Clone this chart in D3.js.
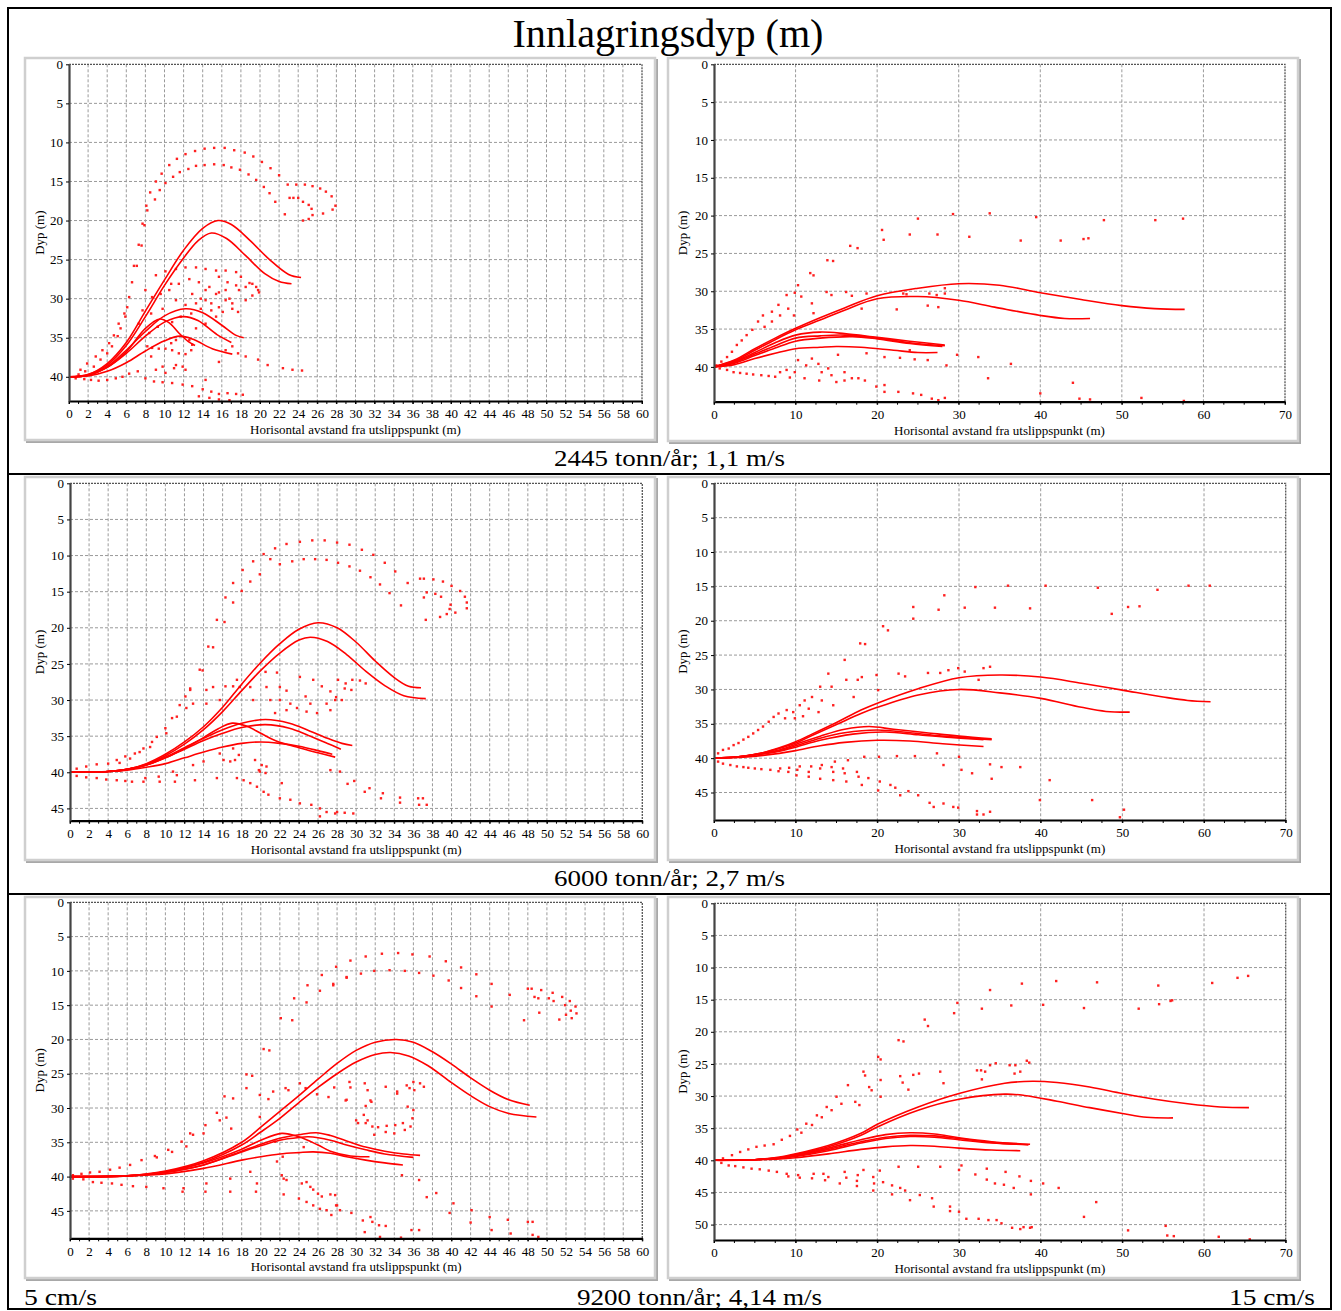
<!DOCTYPE html>
<html><head><meta charset="utf-8">
<script src="https://cdn.jsdelivr.net/npm/d3@7"></script>
<style>body{margin:0;background:#fff}svg text{font-family:"Liberation Serif","Times New Roman",serif}</style>
</head><body>
<svg id="c" width="1341" height="1311"></svg>
<script>
// ---------- texts ----------
const mainTitle = "Innlagringsdyp (m)";
const rowLabels = ["2445 tonn/år; 1,1 m/s", "6000 tonn/år; 2,7 m/s", "9200 tonn/år; 4,14 m/s"];
const colLabels = ["5 cm/s", "15 cm/s"];
const yLabel = "Dyp (m)";
const xLabel = "Horisontal avstand fra utslippspunkt (m)";

// ---------- ticks ----------
const xTicksLeft = [0,2,4,6,8,10,12,14,16,18,20,22,24,26,28,30,32,34,36,38,40,42,44,46,48,50,52,54,56,58,60];
const xTicksRight = [0,10,20,30,40,50,60,70];
const yTicks40 = [0,5,10,15,20,25,30,35,40];
const yTicks45 = [0,5,10,15,20,25,30,35,40,45];
const yTicks50 = [0,5,10,15,20,25,30,35,40,45,50];

// ---------- panel A: 2445 t/år, 5 cm/s ----------
const linesA = [
 [[0,40],[2,39.7],[4,38.3],[6,35.6],[8,31.6],[10,27.6],[12,23.8],[14,21],[15.6,20],[17,20.5],[19,22.6],[21,25],[23,26.9],[24.3,27.3]],
 [[0,40],[2,39.7],[4,38.5],[6,36],[8,32.3],[10,28.3],[12,24.8],[13.5,22.6],[14.9,21.6],[16.5,22.3],[18.5,24.5],[20.5,26.8],[22,27.8],[23.3,28.1]],
 [[0,40],[2,39.8],[4,38.7],[6,36.6],[8,34.2],[10,32.2],[12.2,31.3],[14,31.8],[16,33.4],[17.5,34.7],[18.3,35]],
 [[0,40],[2,39.8],[4,38.8],[6,37],[8,34.8],[10,33],[12,32.3],[13.5,32.8],[15.5,34.6],[17,35.6]],
 [[0,40],[2,39.8],[4,38.8],[6,36.8],[8,33.8],[9.5,32.6],[10.5,33.1],[11.5,34.4],[12.5,35.5],[13.2,36]],
 [[0,40],[2,39.9],[4,39.3],[6,38.2],[8,36.7],[10,35.4],[11.6,34.8],[13,35.2],[15,36.4],[17.1,37.1]]
];
const dotsA = [
 [7.3,23.1],[7.7,20.4],[8.1,18.1],[8.5,16.4],[9.1,15.0],[9.7,14.0],[10.5,12.9],[11.3,12.1],[12.2,11.5],[13.2,11.1],[14.2,10.8],[15.2,10.7],[16.3,10.7],[17.3,11.0],[18.4,11.3],[19.3,11.8],[20.2,12.5],[21.1,13.3],[22.0,14.2],[22.9,15.4],
 [7.6,23.2],[7.9,20.6],[8.2,18.7],[9.0,17.3],[9.5,16.1],[10.1,15.2],[10.9,14.4],[11.6,13.8],[12.5,13.4],[13.3,13.0],[14.2,12.9],[15.2,12.8],[16.2,12.9],[17.0,13.2],[17.9,13.5],[18.8,14.1],[19.6,14.8],[20.4,15.7],[21.0,16.5],[21.6,17.6],[22.6,19.2],
 [23.1,17.1],[23.5,17.1],[24.0,17.1],[24.5,17.6],[25.1,18.0],[25.4,18.5],[25.5,19.3],[25.1,19.8],[24.5,20.0],[26.6,19.1],[27.6,18.6],[27.9,18.1],[27.5,16.9],[26.9,16.3],[26.3,15.9],[25.5,15.6],[24.7,15.4],[23.8,15.4],
 [6.8,25.8],[7.1,25.8],[6.6,27.9],[6.1,31.1],[5.9,32.3],[5.4,33.8],[5.1,34.8],[4.5,36.1],[4.0,37.0],[3.3,37.8],[2.6,38.7],[1.7,39.3],[1.0,39.7],
 [6.3,29.8],[5.8,31.9],[5.2,33.2],[4.7,34.7],[4.2,35.7],[3.5,36.6],[2.8,37.4],[1.9,38.3],[1.2,39.1],
 [0.7,40.2],[1.6,40.3],[2.3,40.4],[3.1,40.5],[4.0,40.4],[4.9,40.2],[5.6,40.0],[6.3,39.6],[7.2,39.3],[8.0,40.2],[8.9,40.6],[9.8,40.7],[10.8,40.8],[11.9,41.0],[12.9,41.2],[14.0,41.6],[14.9,41.9],[15.7,42.2],[16.6,42.1],[17.5,42.2],[18.2,42.3],[13.6,42.5],[14.7,42.7],[15.7,42.9],[16.8,43.0],
 [8.0,28.9],[9.1,27.0],[10.1,26.5],[11.2,26.2],[12.2,26.0],[13.3,26.0],[14.3,26.2],[15.4,26.4],[16.4,26.4],[17.5,26.6],[18.0,27.2],[18.9,28.0],[19.6,28.5],[19.9,29.2],[19.2,29.6],[18.5,30.2],[17.5,28.3],[16.4,28.9],[15.4,29.4],[14.3,30.2],[13.3,30.6],[12.2,30.8],[11.2,30.2],[10.5,28.9],[11.5,28.1],[12.6,27.5],[13.6,27.9],[14.7,28.5],[15.7,29.2],[16.8,30.0],[17.1,31.3],[17.7,31.7],[14.9,31.5],[13.8,31.3],[12.8,31.9],[11.7,32.3],[9.8,31.3],[8.7,29.8],[7.7,31.5],[7.3,33.2],[8.4,34.4],
 [15.7,27.2],[16.6,27.9],[14.3,28.9],[12.9,29.4],[13.8,30.0],[14.9,30.6],[15.7,31.1],[16.4,30.2],[17.8,28.9],[18.5,28.5],[19.2,28.1],[19.8,28.9],[17.1,30.6],[10.7,28.1],[9.6,29.4],[8.6,31.9],[9.3,33.6],[13.3,33.8],[14.3,33.2],[15.4,32.3],[16.1,31.7],[10.8,33.0],[16.4,36.6],[17.1,36.1],[15.7,38.1],[14.3,40.4],
 [17.7,37.0],[18.5,37.4],[19.8,37.8],[20.8,38.5],[22.4,38.9],[23.4,39.1],[24.4,39.2],
 [10.8,36.6],[11.5,37.0],[12.2,37.1],[12.8,36.6],[12.9,35.9],[12.6,35.3],[11.2,35.3],[10.7,35.7],[10.1,36.4],[9.4,36.4],[8.7,36.3],[8.2,36.1],[11.0,38.9],[11.9,38.7],[11.2,38.5],[12.2,39.1],[9.8,38.7],[9.1,39.1],[10.1,39.5],[8.6,37.4]
];

// ---------- panel B: 2445 t/år, 15 cm/s ----------
const linesB = [
 [[0,40],[2.5,39.1],[5,37.6],[7.5,36.2],[10,34.9],[13,33.5],[16,32.2],[20,30.6],[25,29.6],[30,29.0],[35,29.2],[40,30.2],[45,31.1],[50,31.9],[54,32.3],[57.7,32.4]],
 [[0,40],[2.5,39.2],[5,37.8],[7.5,36.4],[10,35.1],[13,33.8],[16,32.5],[20,31.0],[25,30.7],[30,31.2],[34.4,32.1],[40,33.2],[43,33.6],[46.1,33.6]],
 [[0,40],[2.5,39.3],[5,38.1],[7.5,36.8],[10,35.8],[13,35.4],[16,35.6],[20,36.1],[24,36.6],[28.3,37.1]],
 [[0,40],[2.5,39.4],[5,38.3],[7.5,37.2],[10,36.2],[13,35.9],[16,35.8],[20,36.2],[24,36.8],[28.3,37.2]],
 [[0,40],[2.5,39.5],[5,38.5],[7.5,37.5],[10,36.6],[13,36.2],[17,36.0],[20,36.3],[24,36.9],[28,37.3]],
 [[0,40],[2.5,39.7],[5,38.9],[7.5,38.2],[10,37.6],[13,37.4],[15,37.3],[18,37.4],[22,37.8],[25,38.1],[27.4,38.1]]
];
const dotsB = [
 [0.3,39.8],[0.9,39.3],[1.6,38.7],[2.2,38.0],[2.8,37.1],[3.4,36.5],[4.0,35.8],[4.7,35.1],[5.4,34.0],[6.0,33.2],[7.1,32.7],[7.9,31.8],[8.9,30.5],[9.9,30.2],[10.3,29.2],[11.8,27.6],[12.2,27.9],[13.9,25.9],[14.6,26.0],[16.7,24.0],[17.6,24.3],[20.6,21.9],[20.8,23.2],[24.0,22.5],[25.0,20.4],[27.4,22.5],[29.3,19.8],[31.3,22.8],
 [6.2,34.7],[7.1,34.0],[8.1,33.2],[9.1,32.3],[9.8,33.2],[10.7,30.7],[12.0,31.6],[12.2,32.9],[13.8,30.1],[14.4,30.5],[16.2,30.1],[16.9,30.6],[18.7,30.3],[18.1,32.3],[22.4,32.4],[23.2,30.3],[26.4,30.3],[27.3,30.5],[28.3,30.3],[27.5,32.1],[26.2,31.9],[28.3,29.6],[23.6,30.4],
 [0.7,40.2],[1.6,40.4],[2.4,40.7],[3.2,40.8],[4.0,40.9],[4.8,41.0],[5.8,41.1],[6.7,41.2],[8.1,40.7],[8.9,40.4],[9.9,40.7],[10.3,39.1],[11.3,39.8],[12.0,38.9],[12.8,39.6],[13.2,40.7],[14.0,40.2],[14.4,41.1],[15.2,38.4],[16.0,40.7],[16.9,41.5],[17.7,41.5],[18.7,38.2],[16.0,41.8],[15.0,42.0],[12.9,41.8],[11.1,41.5],[7.5,41.3],[9.3,41.4],[18.5,41.8],[19.9,42.6],[20.9,42.4],[20.9,43.3],[22.6,43.3],[24.4,43.5],[25.4,43.7],[26.7,44.2],[27.5,44.4],[28.3,44.1],
 [20.9,38.7],[22.8,38.8],[24.0,37.8],[24.6,39.0],[26.2,39.1],[29.8,38.4],[28.5,39.8],[32.4,38.7],[33.6,41.5],
 [33.8,19.7],[39.5,20.2],[37.6,23.3],[42.5,23.3],[45.3,23.1],[45.9,23.0],[47.8,20.6],[54.1,20.6],[57.5,20.4],
 [36.4,39.6],[44.0,42.1],[40.0,43.5],[44.8,44.2],[46.1,44.3],[52.4,44.1],[57.6,44.5]
];

// ---------- panel C: 6000 t/år, 5 cm/s ----------
const linesC = [
 [[0,40],[4,39.9],[6,39.6],[8,38.8],[10,37.5],[12,35.8],[14,33.7],[16,31],[18,27.8],[20,24.8],[22,22.2],[24,20.2],[26,19.3],[28,20],[30,22],[32,24.6],[34,26.9],[35.5,28.1],[36.8,28.3]],
 [[0,40],[4,39.9],[6,39.6],[8,38.9],[10,37.7],[12,36.1],[14,34.1],[16,31.6],[18,28.7],[20,25.9],[22,23.5],[24,21.7],[25.2,21.3],[27,21.9],[29,23.7],[31,26],[33,28],[35,29.4],[37.3,29.8]],
 [[0,40],[4,39.9],[6,39.6],[8,39],[10,37.9],[12,36.6],[14,35.3],[16,34.1],[18,33.2],[20.5,32.7],[23,33.2],[25,34.2],[27,35.3],[28.5,36],[29.6,36.3]],
 [[0,40],[4,39.9],[6,39.6],[8,39],[10,38],[12,36.8],[14,35.6],[16,34.6],[18,33.8],[20.5,33.4],[23,33.9],[25,34.9],[27,36],[28.4,36.8]],
 [[0,40],[4,39.9],[6,39.6],[8,39],[10,38],[12,36.7],[14,35.2],[15.5,34],[17,33.2],[18.5,33.6],[20,34.6],[21.5,35.6],[24,36.6],[26,37.3],[27.8,37.9]],
 [[0,40],[4,39.9],[6,39.7],[8,39.3],[10,38.8],[12,38],[14,37.2],[16,36.5],[18,36],[20,35.8],[22,36],[24,36.4],[26,37],[27.5,37.5]]
];
const dotsC = [
 [15.4,18.9],[16.2,19.2],[14.5,22.6],[15.0,22.7],[13.6,25.8],[13.9,25.9],[16.3,15.8],[17.1,16.5],[17.1,13.8],[18.0,14.9],[18.1,12.0],[18.9,13.6],[19.2,10.8],[19.9,12.6],[20.3,9.8],[21.0,10.5],[21.5,9.0],[22.0,11.2],[22.7,8.4],[23.3,10.8],[24.1,8.1],[24.5,10.5],[25.4,7.9],[25.7,10.5],[26.7,7.9],[26.9,10.6],[28.0,8.2],
 [29.3,8.5],[28.1,11.0],[29.3,11.5],[30.6,9.2],[30.4,12.1],[31.8,9.9],[31.5,13.0],[33.0,11.0],[32.5,14.0],[34.1,12.2],[33.5,15.2],[35.4,13.8],[34.7,16.9],[36.7,13.2],[37.1,13.2],[38.1,13.3],[39.1,13.6],[40.0,14.2],[40.9,14.9],[41.4,15.7],[41.6,16.5],[41.6,17.3],[40.4,17.9],[39.5,18.1],[38.8,18.5],[37.4,15.1],[37.1,15.8],[37.3,18.9],[38.3,15.3],[38.9,15.7],[39.9,16.8],[39.8,17.4],
 [15.0,28.2],[16.3,28.1],[17.1,28.1],[17.8,28.2],[18.9,28.2],[19.2,30.0],[20.5,26.1],[21.7,26.2],[22.0,28.2],[22.0,30.0],[22.7,28.7],[23.1,30.5],[24.1,26.8],[24.7,29.5],[25.2,30.5],[25.5,27.2],[26.4,28.1],[27.3,28.8],[27.8,30.0],[26.9,30.5],[25.9,31.8],[24.8,31.6],[23.8,31.1],[22.7,31.4],[21.5,31.8],[21.0,30.0],[20.6,28.2],[17.5,27.2],[14.3,28.6],[15.7,30.0],[14.3,30.5],[12.9,30.5],[12.2,31.1],[12.1,29.5],[12.6,28.4],
 [28.1,27.2],[28.9,27.7],[29.6,27.2],[30.4,27.3],[31.0,27.7],[28.8,28.4],[29.5,28.6],[27.9,29.6],[28.5,30.0],[27.3,31.4],
 [0.7,40.5],[1.7,40.7],[2.8,40.8],[3.8,41.0],[4.9,41.1],[5.8,41.2],[6.5,41.3],[7.7,41.3],[7.9,40.8],[9.3,40.6],[9.4,41.3],[10.8,39.9],[11.0,41.3],[11.2,40.4],[12.9,39.0],[13.1,41.1],[14.0,38.5],[15.4,40.8],[15.7,37.4],[16.1,38.3],[16.8,38.5],[17.3,38.3],[17.7,37.6],[17.5,40.8],[18.2,41.1],[18.9,41.5],[19.6,42.0],[20.3,42.7],[20.8,43.1],[19.4,38.3],[19.8,39.7],[20.1,39.0],[20.6,39.2],[19.9,39.9],[20.5,40.1],[22.2,41.5],[22.0,43.6],[23.1,43.8],[24.1,44.3],[25.3,44.5],[26.2,45.0],[26.9,45.5],[27.8,45.7],[26.2,46.1],[17.1,36.7],
 [0.7,39.5],[1.7,39.2],[2.8,38.9],[4.0,38.8],[4.9,38.3],[5.8,37.8],[6.8,37.4],[7.7,36.7],[8.6,35.8],[9.1,35.1],[10.0,33.9],[10.7,32.5],[11.5,30.7],[12.6,28.6],
 [5.2,38.7],[6.3,38.1],[7.3,37.2],[8.4,36.5],[10.1,34.6],[11.2,32.3],
 [28.3,39.9],[29.1,41.6],[29.8,41.2],[30.9,42.7],[31.4,42.2],[32.8,42.9],[32.6,43.6],[34.6,43.5],[34.6,44.2],[36.5,43.6],[37.0,43.6],[37.4,44.5],[36.6,44.5],[28.0,45.5],[28.8,45.6],[29.7,45.7],[27.3,39.7]
];

// ---------- panel D: 6000 t/år, 15 cm/s ----------
const linesD = [
 [[0,40],[3,39.8],[6,39.2],[8,38.5],[10,37.6],[12,36.5],[15,34.8],[18,33],[20,32],[25,29.9],[30,28.3],[35,27.9],[40,28.2],[45,29.1],[50,30.1],[55,31.1],[58,31.6],[60.8,31.8]],
 [[0,40],[3,39.8],[6,39.2],[8,38.6],[10,37.8],[12,36.7],[15,35.1],[18,33.5],[20,32.6],[25,30.8],[30,30.0],[35,30.5],[40,31.3],[45,32.6],[48,33.2],[50.9,33.3]],
 [[0,40],[3,39.8],[6,39.3],[8,38.8],[10,38],[13,36.8],[16,35.8],[19,35.4],[22,35.8],[26,36.3],[30,36.8],[34,37.2]],
 [[0,40],[3,39.8],[6,39.3],[8,38.9],[10,38.2],[13,37.1],[16,36.3],[20,35.9],[24,36.3],[28,36.8],[34,37.3]],
 [[0,40],[3,39.8],[6,39.4],[8,39],[10,38.4],[13,37.4],[17,36.5],[21,36.2],[25,36.6],[29,37.0],[33,37.3]],
 [[0,40],[3,39.9],[6,39.6],[8,39.3],[10,38.9],[13,38.2],[16,37.7],[20,37.4],[24,37.5],[28,37.9],[33,38.3]]
];
const dotsD = [
 [0.5,39.3],[1.1,38.8],[1.8,38.6],[2.4,38.1],[3.0,37.8],[3.6,37.3],[4.2,36.9],[4.8,36.4],[5.4,35.9],[6.0,35.4],[6.7,34.7],[7.3,34.0],[7.9,33.5],[8.7,34.2],[8.9,33.0],[9.7,33.3],[9.9,34.2],[10.5,32.3],[10.9,33.9],[11.1,31.6],[11.6,32.8],[12.0,31.1],[12.8,33.3],[13.0,29.6],[13.2,31.6],[14.0,27.7],[14.4,29.6],[14.6,32.3],[16.0,25.7],[16.2,28.6],[17.1,31.1],[17.9,23.3],[18.5,23.4],[18.1,28.2],[17.6,28.6],[19.9,27.9],[20.1,30.1],[20.7,20.8],[21.3,21.4],[22.6,27.7],[23.4,28.1],[24.4,18.0],[24.4,19.7],[26.2,27.6],[27.5,18.4],[27.7,27.6],[28.2,16.3],[28.7,27.2],[29.9,26.9],[30.7,18.1],[30.7,27.4],[32.0,15.1],[32.4,28.6],[33.0,26.9],[33.8,26.7],[34.4,18.1],
 [36.0,14.9],[40.6,14.9],[47.0,15.2],[54.3,15.5],[58.1,14.9],[60.7,14.9],[38.7,18.2],[48.7,19.0],[50.7,18.0],[52.1,17.9],
 [37.5,41.3],[41.1,43.2],[39.9,46.1],[46.3,46.1],[49.7,48.6],[50.2,47.5],
 [0.5,40.5],[1.1,40.8],[2.0,41.0],[2.8,41.2],[3.6,41.3],[4.2,41.4],[5.0,41.5],[5.8,41.6],[6.9,41.7],[7.9,41.9],[8.1,41.5],[9.1,42.0],[9.2,41.4],[10.2,41.7],[10.5,41.2],[10.1,42.5],[11.6,42.0],[11.9,41.2],[11.6,42.7],[13.0,41.5],[13.2,41.0],[13.0,43.0],[14.4,41.3],[14.6,42.0],[14.8,40.5],[14.6,43.2],[15.8,41.5],[16.0,42.2],[16.2,43.4],[16.4,40.3],[17.5,42.0],[17.7,42.7],[18.1,43.9],[18.4,39.8],[18.9,42.9],[20.3,43.4],[20.1,44.7],[20.2,39.8],[21.6,43.9],[22.2,44.3],[22.4,39.7],[22.8,45.4],[23.8,44.8],[24.6,39.7],[25.0,45.4],[26.4,46.5],[26.9,47.1],[27.3,39.3],[28.1,41.0],[28.1,46.6],[29.3,47.1],[29.9,47.2],[30.0,39.8],[30.3,41.7],[31.6,42.2],[32.2,47.7],[32.2,48.2],[33.0,48.2],[33.8,47.8],[33.8,40.9],[34.0,43.0],[35.2,41.3]
];

// ---------- panel E: 9200 t/år, 5 cm/s ----------
const linesE = [
 [[0,40],[6,39.9],[10,39.2],[14,37.7],[18,35],[20,32.8],[22,30.5],[24,28.2],[26,25.8],[28,23.5],[30,21.6],[32,20.4],[34.2,20],[36,20.4],[38,21.8],[40,23.6],[42,25.6],[44,27.4],[46,28.8],[48.2,29.6]],
 [[0,40],[6,39.9],[10,39.3],[14,37.9],[18,35.4],[20,33.5],[22,31.5],[24,29.2],[26,27],[28,25],[30,23.3],[32,22.2],[33.6,21.9],[35.5,22.4],[37.5,23.8],[40,26.3],[42,28.2],[44,29.8],[46,30.8],[48.9,31.3]],
 [[0,40],[6,39.9],[10,39.4],[14,38.3],[18,36.3],[20,35.3],[22,34.4],[24,33.9],[25.8,33.6],[27.3,34.0],[29,34.8],[31,35.7],[33,36.3],[35,36.7],[36.7,36.9]],
 [[0,40],[6,39.9],[10,39.4],[14,38.3],[18,36.4],[20,35.5],[22,34.7],[24,34.3],[25,34.2],[27.3,34.7],[29,35.4],[31,36.1],[33,36.7],[36,37.2]],
 [[0,40],[6,39.9],[10,39.3],[14,38],[18,36],[20,34.7],[22.2,33.7],[24,34.2],[26,35.4],[27.3,36.3],[29.4,37],[31.4,37.1]],
 [[0,40],[6,39.9],[10,39.6],[14,38.8],[18,37.6],[20,37.1],[22,36.7],[24,36.5],[25.5,36.4],[27.3,36.6],[29,37.1],[31,37.6],[33,38.0],[34.9,38.3]]
];
const dotsE = [
 [27.9,9.4],[29.0,10.9],[26.4,10.6],[27.6,11.9],[26.2,12.9],[24.9,12.1],[23.5,14.0],[24.8,14.6],[23.3,17.2],[22.1,16.9],[20.3,21.4],[20.9,21.6],[18.5,25.1],[19.1,25.3],[16.2,28.3],[17.1,28.6],[15.4,30.7],[15.7,31.8],[14.2,32.5],[14.0,33.7],[12.6,33.7],[12.9,33.9],[11.7,34.9],[12.2,35.6],[10.3,36.1],[10.7,36.4],[8.9,37.0],[9.1,37.2],[7.5,37.6],[6.3,38.3],[5.2,38.7],[4.2,39.0],[3.1,39.3],[2.1,39.4],[1.2,39.6],[0.3,39.8],
 [16.4,31.4],[16.9,33.0],[18.5,27.1],[19.9,28.1],[20.8,28.7],[21.3,27.6],[22.6,27.1],[22.9,27.4],[24.1,26.4],[24.7,27.1],[25.9,28.0],[27.1,28.4],[29.0,28.8],[19.9,31.3],[21.5,34.9],[22.3,37.1],[24.5,35.7],
 [0.3,40.3],[1.4,40.4],[2.4,40.8],[3.3,40.9],[4.4,41.0],[5.4,41.2],[6.6,41.4],[8.0,41.5],[9.8,41.7],[11.9,41.7],[11.8,42.2],[14.3,41.0],[14.2,42.2],[16.8,40.3],[16.8,42.2],[18.9,39.3],[19.6,41.0],[19.5,42.2],[21.7,37.8],[22.2,39.8],[22.4,40.3],[22.7,40.5],[22.4,42.6],[24.0,43.2],[24.3,41.0],[24.8,40.8],[25.2,41.5],[25.5,41.9],[26.0,42.5],[26.4,42.9],[24.8,43.7],[25.5,44.2],[26.2,44.7],[26.9,44.9],[27.4,45.6],[28.3,44.9],[28.0,44.2],[27.3,42.6],
 [29.4,8.5],[31.0,7.9],[32.7,7.5],[34.4,7.4],[35.9,7.6],[37.7,7.9],[39.4,8.6],[41.0,9.5],[42.6,10.5],[44.2,11.9],[46.1,13.5],[48.0,12.6],[48.4,12.6],[49.4,12.8],[50.6,13.2],[51.6,13.8],[52.4,14.4],[53.0,15.2],[53.1,16.2],[52.6,16.9],[52.0,16.4],[51.3,17.1],[50.7,14.4],[50.2,14.0],[49.1,14.0],[48.7,13.8],[51.9,15.0],[52.5,15.8],[49.2,16.1],[47.6,17.2],[44.2,15.2],[42.6,13.7],[41.0,12.5],[39.7,11.4],[38.1,10.7],[36.6,10.3],[35.1,10.0],[33.5,9.9],[31.9,10.0],[30.5,10.4],[29.0,11.0],[27.6,12.1],
 [29.3,26.2],[29.4,27.0],[27.7,27.0],[28.9,28.9],[30.9,26.4],[31.2,27.4],[31.5,28.9],[31.6,29.1],[33.1,26.9],[34.3,27.9],[34.3,27.6],[35.3,26.7],[36.0,26.2],[36.7,26.4],[37.1,26.9],[35.6,27.1],[36.1,27.4],[35.4,29.8],[36.0,30.3],[35.9,31.5],[35.7,32.7],[35.1,33.2],[34.1,32.5],[33.2,32.6],[32.3,32.8],[31.7,32.7],[31.0,32.2],[30.2,32.2],[30.0,31.8],[30.8,31.0],[31.2,31.8],[31.9,33.9],[33.1,33.5],[34.0,33.7],[34.9,32.2],[31.0,29.7],
 [27.8,42.7],[27.9,44.2],[29.5,45.3],[30.7,46.4],[31.5,45.9],[31.7,46.6],[32.4,47.1],[30.9,48.1],[32.5,48.8],[33.1,47.2],[34.8,39.8],[34.7,48.9],[35.8,47.8],[36.6,47.8],[36.6,40.5],[37.4,43.0],[38.4,42.4],[40.2,43.9],[39.8,45.3],[42.1,44.9],[42.0,46.7],[44.0,45.9],[44.2,47.8],[45.9,46.3],[46.2,48.3],[48.0,46.6],[48.5,46.6],[48.5,48.5],[49.1,48.8]
];

// ---------- panel F: 9200 t/år, 15 cm/s ----------
const linesF = [
 [[0,40],[5,39.9],[8,39.5],[10,39],[14,37.7],[18,35.8],[20,34.4],[25,31.7],[30,29.6],[35.6,28],[39,27.7],[42,27.9],[46,28.6],[50,29.6],[54,30.5],[58,31.2],[62,31.7],[65.5,31.8]],
 [[0,40],[5,39.9],[8,39.6],[10,39.1],[14,37.9],[18,36.1],[20,34.8],[25,32.2],[30,30.5],[35.6,29.7],[38,29.9],[42,30.8],[46,31.8],[50,32.7],[53,33.3],[56.2,33.4]],
 [[0,40],[5,39.9],[8,39.6],[10,39.2],[14,38.1],[18,36.8],[21,36],[24,35.7],[27,35.9],[30,36.5],[34,37.1],[38.7,37.5]],
 [[0,40],[5,39.9],[8,39.6],[10,39.3],[14,38.3],[18,37.1],[21,36.4],[24,36.1],[27,36.2],[30,36.6],[34,37.2],[38.5,37.6]],
 [[0,40],[5,39.9],[8,39.7],[10,39.4],[14,38.5],[18,37.3],[21,36.6],[24,36.3],[27,36.4],[30,36.8],[34,37.3],[37.6,37.5]],
 [[0,40],[5,39.9],[8,39.8],[10,39.6],[14,39],[18,38.3],[21,37.9],[24,37.7],[27,37.8],[30,38.1],[34,38.4],[37.5,38.5]]
];
const dotsF = [
 [1.1,39.7],[2.2,39.2],[3.2,38.7],[4.2,38.3],[5.2,37.9],[6.2,37.7],[7.3,37.5],[8.3,36.8],[9.3,36.2],[10.2,35.2],[10.7,35.7],[11.3,34.3],[12.0,34.5],[12.6,33.0],[13.2,33.3],[13.8,31.7],[14.4,32.2],[15.0,30.1],[15.6,31.2],[16.4,28.3],[17.3,30.9],[17.8,31.4],[18.3,26.2],[18.5,26.8],[19.0,28.6],[19.3,29.1],[20.1,23.9],[20.4,24.3],[20.4,27.5],[20.4,30.1],[22.6,21.3],[23.2,21.5],[22.8,26.9],[23.1,27.9],[23.8,29.0],[24.4,26.7],[25.1,26.5],[25.8,18.1],[26.2,19.1],[27.7,26.2],[28.1,28.0],[29.4,17.1],[29.8,15.5],[32.2,26.0],[32.7,26.0],[32.8,27.4],[33.2,26.2],[33.8,13.5],[32.8,16.4],[33.8,25.2],[34.5,24.9],
 [0.9,40.4],[1.8,40.8],[2.6,40.9],[3.6,41.1],[4.6,41.3],[5.6,41.4],[6.7,41.6],[7.7,41.8],[8.9,42.1],[9.1,42.5],[10.3,42.3],[10.5,42.7],[12.2,42.1],[12.0,42.8],[13.4,42.1],[13.6,43.1],[14.0,42.6],[15.4,43.6],[16.0,41.8],[16.2,42.7],[17.6,42.3],[17.5,43.2],[17.5,44.0],[18.3,41.5],[19.5,42.6],[19.6,43.6],[19.5,44.7],[20.3,41.6],[20.7,43.4],[21.8,43.9],[21.8,45.3],[22.6,41.0],[22.8,44.3],[23.4,44.7],[24.0,46.2],[25.0,41.0],[25.2,45.4],[26.7,45.9],[26.9,47.2],[27.7,41.0],[28.9,47.2],[28.9,47.9],[30.0,41.5],[30.3,40.8],[30.0,48.0],[30.9,49.1],[32.0,42.2],[32.4,49.1],[33.4,43.0],[33.6,49.3],[34.6,49.3],[35.2,49.8],[33.4,41.3],[34.4,43.6],
 [37.7,12.5],[41.9,12.1],[46.9,12.3],[54.4,12.8],[61.0,12.4],[64.1,11.6],[65.4,11.3],[36.4,15.9],[40.3,15.8],[45.3,16.3],[52.0,16.4],[54.5,15.7],[55.9,15.2],[56.1,15.1],
 [36.2,25.2],[36.9,25.2],[38.3,24.5],[38.6,24.8],[36.8,26.5],[37.5,26.2],
 [35.7,41.8],[35.5,43.8],[36.7,44.3],[37.4,42.5],[38.8,43.2],[38.8,45.3],[40.3,43.6],[42.2,44.3],[46.8,46.5],[45.3,48.8],[36.5,50.5],[37.5,50.7],[37.9,50.4],[38.7,50.5],[38.9,50.4],[50.7,50.9],[55.3,50.2],[55.5,51.7],[56.3,51.8],[61.8,51.9],[65.6,52.3]
];

// ---------- layout (positions only) ----------
const layout = [
 {frame:[25,58,655,440],  px:[69,642],    py:[64.3,401],    xMax:60, yMax:43.1, xt:xTicksLeft,  yt:yTicks40, minor:1,   lines:linesA, dots:dotsA},
 {frame:[668,58,1298,441],px:[714,1285],  py:[64.3,401.7],  xMax:70, yMax:44.6, xt:xTicksRight, yt:yTicks40, minor:2.5, lines:linesB, dots:dotsB},
 {frame:[25,477,655,860], px:[70,642.3],  py:[483.3,820.7], xMax:60, yMax:46.7, xt:xTicksLeft,  yt:yTicks45, minor:1,   lines:linesC, dots:dotsC},
 {frame:[668,477,1298,860],px:[714,1285.7],py:[483.3,820],  xMax:70, yMax:49,   xt:xTicksRight, yt:yTicks45, minor:2.5, lines:linesD, dots:dotsD},
 {frame:[25,897,655,1278],px:[70,642.3],  py:[902.3,1238.3],xMax:60, yMax:49,   xt:xTicksLeft,  yt:yTicks45, minor:1,   lines:linesE, dots:dotsE},
 {frame:[668,897,1298,1278],px:[714,1285.7],py:[903.3,1240],xMax:70, yMax:52.4, xt:xTicksRight, yt:yTicks50, minor:2.5, lines:linesF, dots:dotsF}
];

const svg = d3.select('#c');
svg.append('rect').attr('width',1341).attr('height',1311).attr('fill','#fff');
const defs = svg.append('defs');

// outer frame & separators
svg.append('rect').attr('x',8).attr('y',8).attr('width',1323).attr('height',1301)
  .attr('fill','none').attr('stroke','#000').attr('stroke-width',2);
[474,894].forEach(yy=>svg.append('line').attr('x1',8).attr('x2',1331).attr('y1',yy).attr('y2',yy)
  .attr('stroke','#000').attr('stroke-width',2.2));

// title & labels
svg.append('text').attr('x',668).attr('y',47).attr('text-anchor','middle')
  .attr('font-size',40).attr('textLength',311).attr('lengthAdjust','spacingAndGlyphs').text(mainTitle);
const rowPos = [[669.5,466,231],[669.5,886,231],[699.5,1305,245]];
rowLabels.forEach((t,i)=>svg.append('text').attr('x',rowPos[i][0]).attr('y',rowPos[i][1])
  .attr('text-anchor','middle').attr('font-size',23).attr('textLength',rowPos[i][2])
  .attr('lengthAdjust','spacingAndGlyphs').text(t));
svg.append('text').attr('x',24).attr('y',1305).attr('font-size',23).attr('textLength',73)
  .attr('lengthAdjust','spacingAndGlyphs').text(colLabels[0]);
svg.append('text').attr('x',1315).attr('y',1305).attr('text-anchor','end').attr('font-size',23)
  .attr('textLength',86).attr('lengthAdjust','spacingAndGlyphs').text(colLabels[1]);

const lineGen = d3.line().curve(d3.curveCatmullRom.alpha(0.5));

layout.forEach((p,i)=>{
  const g = svg.append('g');
  const [fx0,fy0,fx1,fy1] = p.frame;
  // panel frame with shadow
  g.append('rect').attr('x',fx0+2).attr('y',fy0+2).attr('width',fx1-fx0).attr('height',fy1-fy0)
    .attr('fill','none').attr('stroke','#a8a8a8').attr('stroke-width',2);
  g.append('rect').attr('x',fx0).attr('y',fy0).attr('width',fx1-fx0).attr('height',fy1-fy0)
    .attr('fill','#fff').attr('stroke','#cfcfcf').attr('stroke-width',2.5);

  const x = d3.scaleLinear().domain([0,p.xMax]).range(p.px);
  const y = d3.scaleLinear().domain([0,p.yMax]).range(p.py);
  const [x0,x1] = p.px, [y0,y1] = p.py;

  // grid
  g.append('g').selectAll('line').data(p.yt.filter(v=>v>0)).join('line')
    .attr('x1',x0).attr('x2',x1).attr('y1',d=>y(d)).attr('y2',d=>y(d))
    .attr('stroke','#9a9a9a').attr('stroke-width',1).attr('stroke-dasharray','3,2');
  g.append('g').selectAll('line').data(p.xt.filter(v=>v>0 && v<p.xMax)).join('line')
    .attr('x1',d=>x(d)).attr('x2',d=>x(d)).attr('y1',y0).attr('y2',y1)
    .attr('stroke','#9a9a9a').attr('stroke-width',1).attr('stroke-dasharray','3,2');
  // top & right border (dotted)
  g.append('path').attr('d',`M${x0},${y0}H${x1}V${y1}`).attr('fill','none')
    .attr('stroke','#555').attr('stroke-width',1.3).attr('stroke-dasharray','2,1');

  // clip
  const cid = 'clip'+i;
  defs.append('clipPath').attr('id',cid).append('rect')
    .attr('x',x0).attr('y',y0).attr('width',x1-x0).attr('height',y1-y0);
  const pg = g.append('g').attr('clip-path',`url(#${cid})`);

  pg.selectAll('rect.dot').data(p.dots).join('rect').attr('class','dot')
    .attr('x',d=>x(d[0])-1.2).attr('y',d=>y(d[1])-1.2).attr('width',2.4).attr('height',2.4)
    .attr('fill','#ff2020');
  pg.selectAll('path.traj').data(p.lines).join('path').attr('class','traj')
    .attr('d',d=>lineGen(d.map(q=>[x(q[0]),y(q[1])])))
    .attr('fill','none').attr('stroke','#ff0000').attr('stroke-width',1.6);

  // minor ticks on x axis
  g.append('g').selectAll('line').data(d3.range(0,p.xMax+0.001,p.minor)).join('line')
    .attr('x1',d=>x(d)).attr('x2',d=>x(d)).attr('y1',y1).attr('y2',y1+3)
    .attr('stroke','#000').attr('stroke-width',1);

  // axes
  const ax = g.append('g').attr('transform',`translate(0,${y1})`)
    .call(d3.axisBottom(x).tickValues(p.xt).tickSize(3).tickSizeOuter(0).tickPadding(5).tickFormat(d3.format('d')));
  ax.select('.domain').attr('stroke','#000').attr('stroke-width',2.2);
  ax.selectAll('text').attr('font-size',13).attr('font-family','Liberation Serif').attr('fill','#000');
  const ay = g.append('g').attr('transform',`translate(${x0},0)`)
    .call(d3.axisLeft(y).tickValues(p.yt).tickSize(3).tickSizeOuter(0).tickPadding(3).tickFormat(d3.format('d')));
  ay.select('.domain').attr('stroke','#444').attr('stroke-width',2.2);
  ay.selectAll('text').attr('font-size',13).attr('font-family','Liberation Serif').attr('fill','#000');

  // axis titles
  g.append('text').attr('x',(x0+x1)/2).attr('y',y1+33).attr('text-anchor','middle')
    .attr('font-size',13).text(xLabel);
  g.append('text').attr('transform',`translate(${fx0+19},${(y0+y1)/2}) rotate(-90)`)
    .attr('text-anchor','middle').attr('font-size',13).text(yLabel);
});
</script>
</body></html>
